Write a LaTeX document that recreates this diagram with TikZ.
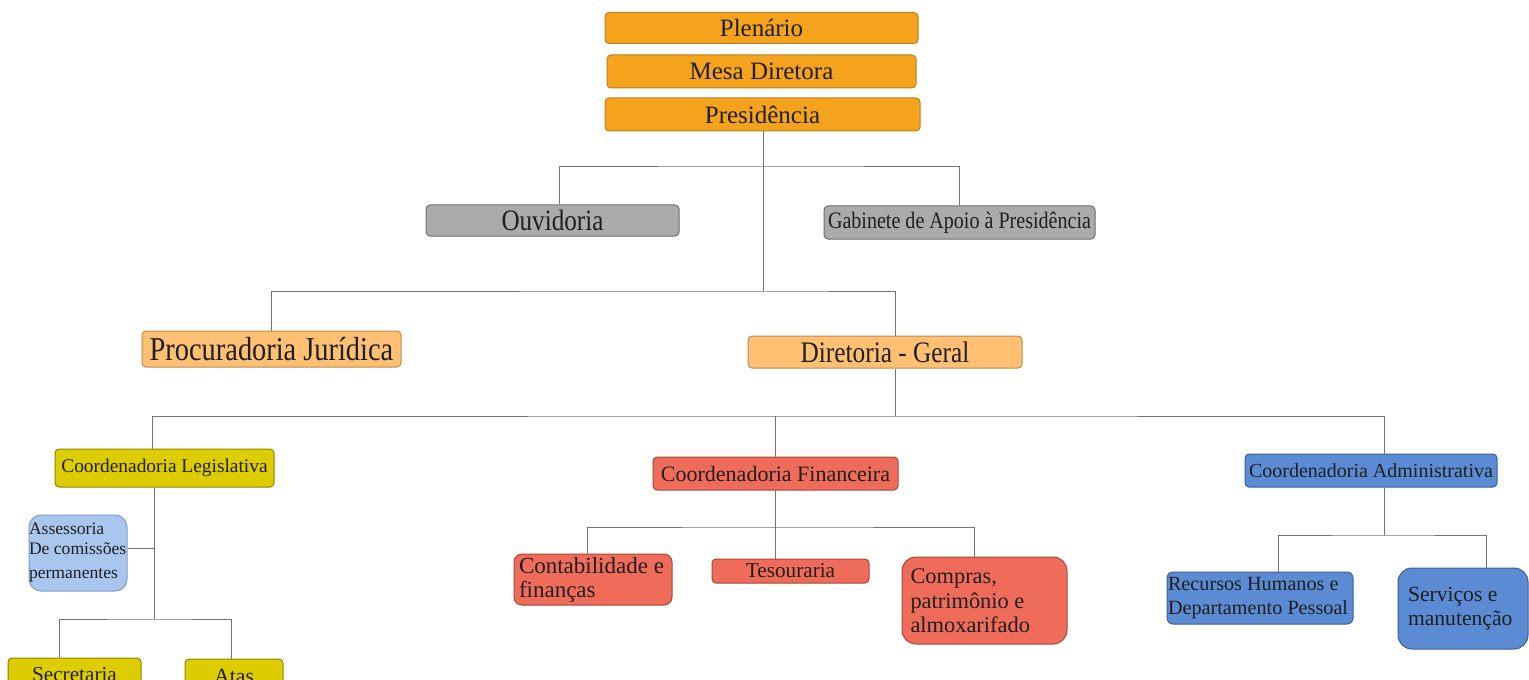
\documentclass[tikz,border=0pt]{standalone}
\usepackage{fontspec}
\setmainfont{Liberation Serif}
\newfontfamily\estreita[FakeStretch=0.85]{Liberation Serif}
\usepackage{tikz}

\definecolor{laranja}{HTML}{F5A31D}
\definecolor{laranjaesc}{HTML}{B9801E}
\definecolor{pessego}{HTML}{FFC073}
\definecolor{pessegoesc}{HTML}{B98A50}
\definecolor{cinza}{HTML}{ABABAB}
\definecolor{cinzaesc}{HTML}{6E6E6E}
\definecolor{amarelo}{HTML}{DDCD00}
\definecolor{amareloesc}{HTML}{8F8500}
\definecolor{salmao}{HTML}{EF6C5B}
\definecolor{salmaoesc}{HTML}{A5483B}
\definecolor{azul}{HTML}{5B8BD2}
\definecolor{azulesc}{HTML}{3C5F94}
\definecolor{azulclaro}{HTML}{A9C7EE}
\definecolor{azulclaroesc}{HTML}{7E9DC8}

\newcommand{\corpo}[2]{\fontsize{#1}{#2}\selectfont}

\tikzset{
  caixa/.style={draw, rounded corners=2pt, inner sep=0pt, line width=0.5pt, text=black!88},
  tam/.style 2 args={minimum width=#1*0.5pt, minimum height=#2*0.5pt},
  linha/.style={draw=black!55, line width=0.5pt},
}

\begin{document}
\begin{tikzpicture}[x=0.5pt, y=-0.5pt]
		\useasboundingbox (0,0) rectangle (1529,679);
		\fill[white] (0,0) rectangle (1529,679);
		\clip (0,0) rectangle (1529,679);

		\node[caixa, fill=laranja, draw=laranjaesc, tam={313}{31}] (plenario) at (761.5,28) {\corpo{12.5}{14}Plenário};
		\node[caixa, fill=laranja, draw=laranjaesc, tam={309}{33}] (mesa) at (761.5,71.5) {\corpo{12.5}{14}Mesa Diretora};
		\node[caixa, fill=laranja, draw=laranjaesc, tam={315}{33}] (presid) at (762.5,114.5) {\corpo{12.5}{14}Presidência};

		\node[caixa, fill=cinza, draw=cinzaesc, tam={253}{31}] (ouvid) at (552.5,220.5) {\estreita\corpo{14.8}{16}Ouvidoria};
		\node[caixa, fill=cinza, draw=cinzaesc, tam={271}{33}] (gabinete) at (959.5,222.5) {\estreita\corpo{11.8}{13}Gabinete de Apoio à Presidência};

		\node[caixa, fill=pessego, draw=pessegoesc, tam={259}{36}] (procur) at (271.5,349) {\estreita\corpo{16.7}{18}Procuradoria Jurídica};
		\node[caixa, fill=pessego, draw=pessegoesc, tam={274}{32}] (diretoria) at (885,352) {\estreita\corpo{14.9}{16}Diretoria - Geral};

		\node[caixa, fill=amarelo, draw=amareloesc, tam={219}{38}] (legis) at (164.5,468) {\corpo{9.7}{11}Coordenadoria Legislativa};
		\node[caixa, fill=salmao, draw=salmaoesc, tam={245}{33}] (financ) at (775.5,473.5) {\corpo{11}{12}Coordenadoria Financeira};
		\node[caixa, fill=azul, draw=azulesc, tam={252}{33}] (admin) at (1371,470.5) {\corpo{10}{11}Coordenadoria Administrativa};

		\node[caixa, fill=azulclaro, draw=azulclaroesc, rounded corners=6pt, tam={98}{76}, text width=49pt, align=flush left] (assess) at (78,553) {\corpo{8.8}{10}Assessoria\\De comissões\\permanentes};
		\node[caixa, fill=amarelo, draw=amareloesc, tam={133}{34}] (secret) at (74.5,675) {\corpo{10.6}{12}Secretaria};
		\node[caixa, fill=amarelo, draw=amareloesc, tam={98}{34}] (atas) at (234,676) {\corpo{10.9}{12}Atas};

		\node[caixa, fill=salmao, draw=salmaoesc, rounded corners=4pt, tam={158}{51}, text width=74pt, align=flush left] (contab) at (593,579.5) {\corpo{11.5}{11}Contabilidade e\\finanças};
		\node[caixa, fill=salmao, draw=salmaoesc, tam={157}{24}] (tesour) at (790.5,571) {\corpo{10.6}{12}Tesouraria};
		\node[caixa, fill=salmao, draw=salmaoesc, rounded corners=7pt, tam={165}{87}, text width=74pt, align=flush left] (compras) at (984.5,600.5) {\corpo{11.2}{12.5}Compras,\\patrimônio e\\almoxarifado};

		\node[caixa, fill=azul, draw=azulesc, rounded corners=3pt, tam={186}{52}, text width=92pt, align=flush left] (rechum) at (1260,598) {\corpo{10.1}{11}Recursos Humanos e\\Departamento Pessoal};
		\node[caixa, fill=azul, draw=azulesc, rounded corners=7pt, tam={130}{81}, text width=55pt, align=flush left] (servic) at (1463,608.5) {\corpo{10.8}{13}Serviços e\\manutenção};

		\coordinate (j1) at (763,167);
		\coordinate (j2) at (763,291);
		\coordinate (j3) at (895,416);
		\coordinate (j4) at (775,527);
		\coordinate (j5) at (1384,535);
		\coordinate (j6) at (154,548);
		\coordinate (j7) at (154,619);

		\draw[linha] (presid.south -| j2) -- (j2);
		\draw[linha] ([xshift=3.25pt]ouvid.north) |- (j1) -| (gabinete.north);
		\draw[linha] (procur.north) |- (j2) -| ([xshift=5pt]diretoria.north);
		\draw[linha] ([xshift=5pt]diretoria.south) -- (j3);
		\draw[linha] ([xshift=-6.25pt]legis.north) |- (j3) -| ([xshift=6.5pt]admin.north);
		\draw[linha] (j3 -| financ.north) -- (financ.north);
		\draw[linha] (financ.south) -- (financ.south |- tesour.north);
		\draw[linha] ([xshift=-3pt]contab.north) |- (j4) -| ([xshift=-5.25pt]compras.north);
		\draw[linha] ([xshift=6.5pt]admin.south) -- (j5);
		\draw[linha] ([xshift=9pt]rechum.north) |- (j5) -| ([xshift=11.5pt]servic.north);
		\draw[linha] ([xshift=-5.25pt]legis.south) -- (j7);
		\draw[linha] (assess.east |- j6) -- (j6);
		\draw[linha] ([xshift=-7.75pt]secret.north) |- (j7) -| ([xshift=-1.5pt]atas.north);
	\end{tikzpicture}
\end{document}
